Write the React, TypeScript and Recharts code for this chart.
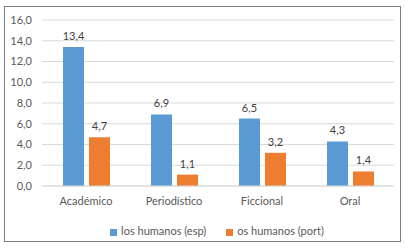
import React from "react";
import { BarChart, Bar, XAxis, YAxis, CartesianGrid, Legend, LabelList } from "recharts";

const categories = ["Académico", "Periodístico", "Ficcional", "Oral"];
const espValues = [13.4, 6.9, 6.5, 4.3];
const portValues = [4.7, 1.1, 3.2, 1.4];
const yTicks = [0, 2, 4, 6, 8, 10, 12, 14, 16];
const seriesNames = ["los humanos (esp)", "os humanos (port)"];

const data = categories.map((c, i) => ({ name: c, esp: espValues[i], port: portValues[i] }));
const fmt = (v: number) => v.toFixed(1).replace(".", ",");
const FONT = "Lato, 'Liberation Sans', sans-serif";

export default function App() {
  return (
    <div style={{ position: "absolute", left: 0, top: 0, width: 406, height: 248, background: "#fff" }}>
      <div style={{ position: "absolute", left: 4, top: 6, width: 397, height: 236, border: "1px solid #7f7f7f", boxSizing: "border-box" }} />
      <div style={{ position: "absolute", left: 0, top: 0 }}>
        <BarChart
          width={406}
          height={248}
          data={data}
          margin={{ top: 20, right: 12, left: 0, bottom: 0 }}
          barGap={5}
          barCategoryGap={21}
        >
          <CartesianGrid vertical={false} stroke="#d9d9d9" />
          <XAxis
            dataKey="name"
            tickLine={false}
            axisLine={{ stroke: "#d9d9d9" }}
            tick={{ fill: "#595959", fontSize: 11, fontFamily: FONT }}
            tickMargin={5}
            height={38}
          />
          <YAxis
            domain={[0, 16]}
            ticks={yTicks}
            tickFormatter={fmt}
            tickLine={false}
            axisLine={false}
            width={42}
            interval={0}
            tick={{ fill: "#595959", fontSize: 11, fontFamily: FONT }}
            tickMargin={4}
          />
          <Legend
            verticalAlign="bottom"
            iconType="square"
            iconSize={7}
            height={24}
            wrapperStyle={{ fontSize: 11, fontFamily: FONT, color: "#595959", paddingLeft: 30 }}
            formatter={(value: string) => <span style={{ color: "#595959", marginRight: 10 }}>{value}</span>}
          />
          <Bar dataKey="esp" name={seriesNames[0]} fill="#5b9bd5" isAnimationActive={false}>
            <LabelList dataKey="esp" position="top" offset={7} formatter={(v: number) => fmt(v)} style={{ fill: "#404040", fontSize: 11, fontFamily: FONT }} />
          </Bar>
          <Bar dataKey="port" name={seriesNames[1]} fill="#ed7d31" isAnimationActive={false}>
            <LabelList dataKey="port" position="top" offset={7} formatter={(v: number) => fmt(v)} style={{ fill: "#404040", fontSize: 11, fontFamily: FONT }} />
          </Bar>
        </BarChart>
      </div>
    </div>
  );
}
